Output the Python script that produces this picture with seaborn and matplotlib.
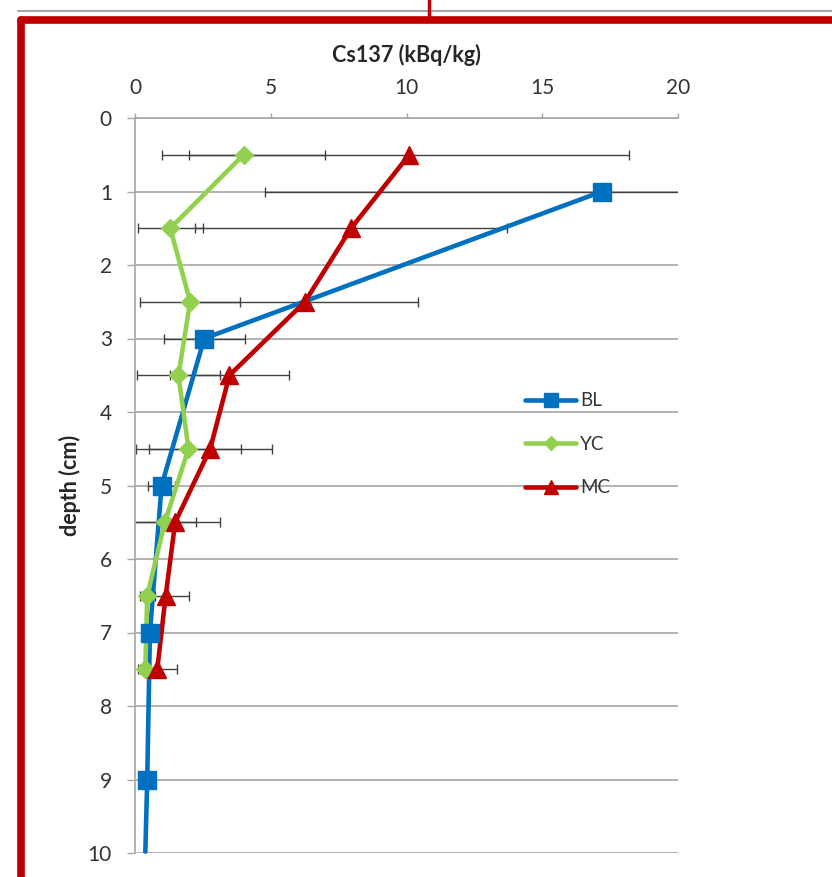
import numpy as np
import pandas as pd
import seaborn as sns
import matplotlib.pyplot as plt
from matplotlib.lines import Line2D

# depth (cm) and Cs137 (kBq/kg) per site
bl_depth = [1, 3, 5, 7, 9, 10]
bl_cs = [17.2, 2.55, 0.98, 0.55, 0.45, 0.38]
bl_err = [12.4, 1.5, 0.51, 0.12, 0.08, 0.0]

yc_depth = [0.5, 1.5, 2.5, 3.5, 4.5, 5.5, 6.5, 7.5]
yc_cs = [4.0, 1.3, 2.03, 1.6, 1.97, 1.1, 0.45, 0.38]
yc_err = [3.0, 1.2, 1.85, 1.52, 1.93, 1.15, 0.27, 0.18]

mc_depth = [0.5, 1.5, 2.5, 3.5, 4.5, 5.5, 6.5, 7.5]
mc_cs = [10.1, 7.96, 6.26, 3.48, 2.77, 1.48, 1.13, 0.82]
mc_err = [8.1, 5.75, 4.17, 2.19, 2.27, 1.65, 0.87, 0.71]

x_ticks = [0, 5, 10, 15, 20]
y_ticks = list(range(0, 11))

sns.set_style('white')
plt.rcParams['font.family'] = ['Lato', 'DejaVu Sans']

fig = plt.figure(figsize=(8.32, 8.77), dpi=100)
ax = fig.add_axes([135 / 832, 1 - 853 / 877, 543 / 832, 735 / 877])

# error bars behind the lines
for cs, depth, err in [(bl_cs, bl_depth, bl_err), (yc_cs, yc_depth, yc_err), (mc_cs, mc_depth, mc_err)]:
    ax.errorbar(cs, depth, xerr=err, fmt='none', ecolor='#404040', elinewidth=1.0,
                capsize=3.3, capthick=1.0, zorder=2)

series = [
    ('BL', bl_cs, bl_depth, '#0070C0', 's', 13),
    ('YC', yc_cs, yc_depth, '#92D050', 'D', 9),
    ('MC', mc_cs, mc_depth, '#C00000', '^', 13),
]
for name, cs, depth, color, mk, ms in series:
    df = pd.DataFrame({'cs': cs, 'depth': depth})
    sns.lineplot(data=df, x='cs', y='depth', sort=False, estimator=None, ax=ax,
                 color=color, linewidth=3.3, zorder=3, label=name)
    pts = df if name != 'BL' else df.iloc[:-1]
    ax.plot(pts['cs'], pts['depth'], linestyle='none', marker=mk, markersize=ms,
            color=color, zorder=4)

ax.set_xlim(0, 20)
ax.set_ylim(10, 0)
ax.set_xticks(x_ticks)
ax.set_yticks(y_ticks)
ax.xaxis.tick_top()
ax.xaxis.set_label_position('top')
ax.set_xlabel('Cs137 (kBq/kg)', fontsize=15.5, fontweight='bold', labelpad=11.5, color='#262626')
ax.set_ylabel('depth (cm)', fontsize=15.5, fontweight='bold', labelpad=5, color='#262626')
ax.tick_params(axis='x', which='both', top=True, bottom=False, direction='out', length=3.6,
               width=1, color='#A6A6A6', labelsize=15, labelcolor='#333333', pad=11)
ax.tick_params(axis='y', which='both', left=True, direction='out', length=5.8,
               width=1, color='#A6A6A6', labelsize=15, labelcolor='#333333', pad=10.8)
ax.grid(axis='y', color='#A6A6A6', linewidth=1.2)
ax.grid(axis='x', visible=False)
for side in ['right', 'bottom']:
    ax.spines[side].set_visible(False)
for side in ['left', 'top']:
    ax.spines[side].set_color('#A6A6A6')
    ax.spines[side].set_linewidth(1.2)

handles = [Line2D([], [], color=c, linewidth=3.3, marker=mk, markersize=ms * 0.75)
           for _, _, _, c, mk, ms in series]
ax.legend(handles, [s[0] for s in series], loc='upper left', bbox_to_anchor=(0.687, 0.65),
          frameon=False, fontsize=13.5, handlelength=2.75, handletextpad=0.2,
          labelspacing=1.42, labelcolor='#333333')

# frame around the picture
fig.add_artist(Line2D([18 / 832, 1], [1 - 11 / 877] * 2, color='#A6A6A6', linewidth=1.5))
fig.add_artist(Line2D([21 / 832, 1], [1 - 20 / 877] * 2, color='#C00000', linewidth=5.5))
fig.add_artist(Line2D([21 / 832] * 2, [0, 1 - 20 / 877], color='#C00000', linewidth=5.5))
fig.add_artist(Line2D([429 / 832] * 2, [1 - 18 / 877, 1], color='#C00000', linewidth=2.5))

fig.savefig('out.png', dpi=100)
